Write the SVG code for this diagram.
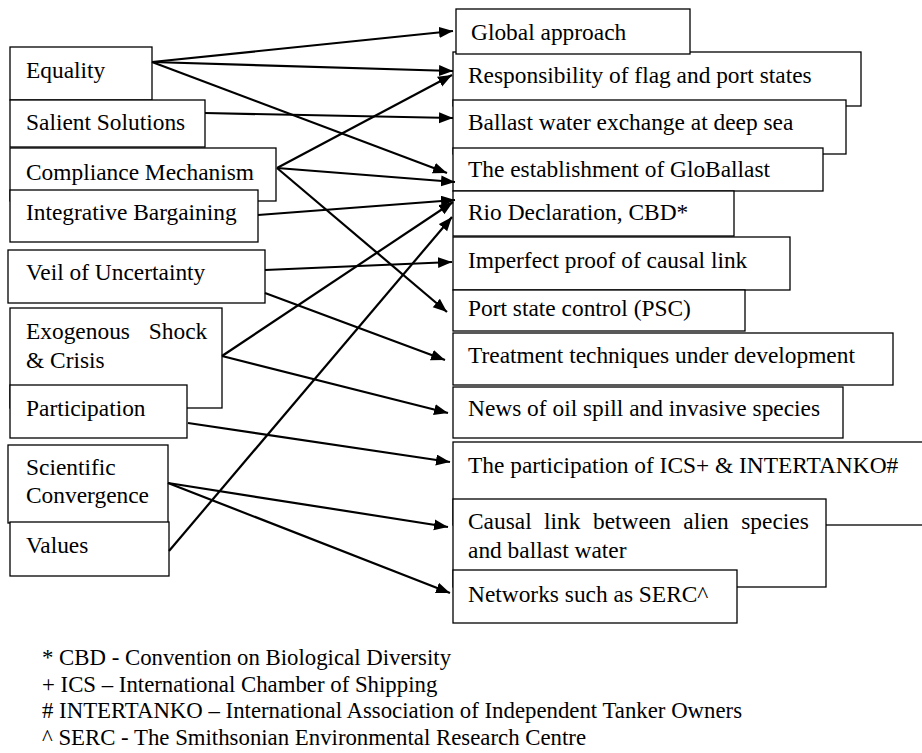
<svg xmlns="http://www.w3.org/2000/svg" width="922" height="753" viewBox="0 0 922 753">
<defs>
<style>
.box{fill:#fff;stroke:#000;stroke-width:1.3}
.t{font-family:"Liberation Serif","Times New Roman",serif;font-size:23.4px;fill:#000}
.f{font-family:"Liberation Serif","Times New Roman",serif;font-size:22.8px;fill:#000}
.c{stroke:#000;stroke-width:2.2;fill:none;marker-end:url(#ah)}
</style>
<marker id="ah" markerUnits="userSpaceOnUse" markerWidth="15" markerHeight="12" refX="14" refY="5.5" orient="auto">
<path d="M0,0 L14,5.5 L0,11 z" fill="#000"/>
</marker>
</defs>
<rect width="922" height="753" fill="#fff"/>

<g id="left-nodes">
<g id="n-equality"><rect class="box" x="10" y="47" width="142" height="53"/><text class="t" x="26" y="78">Equality</text></g>
<g id="n-salient"><rect class="box" x="10" y="100" width="195" height="47"/><text class="t" x="26" y="130">Salient Solutions</text></g>
<g id="n-compliance"><rect class="box" x="10" y="148" width="266" height="53"/><text class="t" x="26" y="180">Compliance Mechanism</text></g>
<g id="n-integrative"><rect class="box" x="10" y="190" width="248" height="52"/><text class="t" x="26" y="220">Integrative Bargaining</text></g>
<g id="n-veil"><rect class="box" x="8" y="250" width="257" height="53"/><text class="t" x="26" y="280">Veil of Uncertainty</text></g>
<g id="n-exogenous"><rect class="box" x="10" y="308" width="212" height="100"/><text class="t" x="26" y="339" word-spacing="13">Exogenous Shock</text><text class="t" x="26" y="368">&amp; Crisis</text></g>
<g id="n-participation"><rect class="box" x="10" y="385" width="177" height="53"/><text class="t" x="26" y="416">Participation</text></g>
<g id="n-scientific"><rect class="box" x="8" y="445" width="160" height="78"/><text class="t" x="26" y="475">Scientific</text><text class="t" x="26" y="503">Convergence</text></g>
<g id="n-values"><rect class="box" x="10" y="522" width="159" height="54"/><text class="t" x="26" y="553">Values</text></g>
</g>

<g id="right-nodes">
<g id="n-resp"><rect class="box" x="453" y="52" width="408" height="54"/><text class="t" x="468" y="83">Responsibility of flag and port states</text></g>
<g id="n-global"><rect class="box" x="456" y="9" width="234" height="45"/><text class="t" x="471" y="40">Global approach</text></g>
<g id="n-ballast"><rect class="box" x="453" y="100" width="393" height="54"/><text class="t" x="468" y="130">Ballast water exchange at deep sea</text></g>
<g id="n-globallast"><rect class="box" x="453" y="148" width="370" height="43"/><text class="t" x="468" y="177">The establishment of GloBallast</text></g>
<g id="n-rio"><rect class="box" x="453" y="191" width="281" height="45"/><text class="t" x="468" y="220">Rio Declaration, CBD*</text></g>
<g id="n-imperfect"><rect class="box" x="453" y="237" width="337" height="53"/><text class="t" x="468" y="268">Imperfect proof of causal link</text></g>
<g id="n-psc"><rect class="box" x="453" y="290" width="292" height="41"/><text class="t" x="468" y="316">Port state control (PSC)</text></g>
<g id="n-treatment"><rect class="box" x="453" y="333" width="440" height="52"/><text class="t" x="468" y="363">Treatment techniques under development</text></g>
<g id="n-news"><rect class="box" x="453" y="387" width="390" height="51"/><text class="t" x="468" y="416">News of oil spill and invasive species</text></g>
<g id="n-ics"><rect class="box" x="453" y="442" width="480" height="83"/><text class="t" x="468" y="473">The participation of ICS+ &amp; INTERTANKO#</text></g>
<g id="n-causal"><rect class="box" x="453" y="499" width="373" height="88"/><text class="t" x="468" y="529" word-spacing="6.6">Causal link between alien species</text><text class="t" x="468" y="558">and ballast water</text></g>
<g id="n-networks"><rect class="box" x="453" y="570" width="284" height="53"/><text class="t" x="468" y="602">Networks such as SERC^</text></g>
</g>

<g id="connectors">
<line class="c" x1="152" y1="62" x2="453" y2="31"/>
<line class="c" x1="152" y1="62" x2="453" y2="71"/>
<line class="c" x1="152" y1="62" x2="447" y2="173"/>
<line class="c" x1="205" y1="113" x2="453" y2="118"/>
<line class="c" x1="277" y1="168" x2="452" y2="75"/>
<line class="c" x1="277" y1="168" x2="455" y2="182"/>
<line class="c" x1="277" y1="168" x2="447" y2="312"/>
<line class="c" x1="258" y1="215" x2="455" y2="200"/>
<line class="c" x1="265" y1="270" x2="452" y2="262"/>
<line class="c" x1="265" y1="293" x2="445" y2="360"/>
<line class="c" x1="222" y1="356" x2="453" y2="202"/>
<line class="c" x1="222" y1="356" x2="448" y2="413"/>
<line class="c" x1="188" y1="423" x2="450" y2="462"/>
<line class="c" x1="168" y1="483" x2="448" y2="527"/>
<line class="c" x1="168" y1="483" x2="450" y2="593"/>
<line class="c" x1="169" y1="551" x2="452" y2="217"/>
</g>

<g id="footnotes">
<text class="f" x="42" y="665">* CBD - Convention on Biological Diversity</text>
<text class="f" x="42" y="692">+ ICS – International Chamber of Shipping</text>
<text class="f" x="42" y="718"># INTERTANKO – International Association of Independent Tanker Owners</text>
<text class="f" x="42" y="745">^ SERC - The Smithsonian Environmental Research Centre</text>
</g>
</svg>
